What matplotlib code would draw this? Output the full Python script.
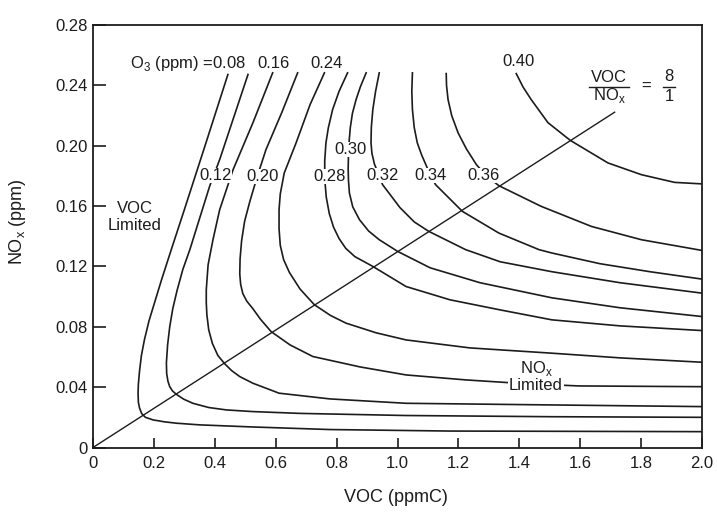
import matplotlib
matplotlib.use("Agg")
import matplotlib.pyplot as plt

plt.rcParams['font.family'] = ['Liberation Sans', 'DejaVu Sans']

ink = '#1c1c1c'

## Isopleths: VOC (ppmC) and NOx (ppm)
o3_08_x = [0.443, 0.371, 0.300, 0.257, 0.225, 0.184, 0.169, 0.159, 0.153, 0.149, 0.148, 0.149, 0.153, 0.160, 0.172, 0.197, 0.235, 0.274, 0.350, 0.525, 0.778, 1.172, 2.0]
o3_08_y = [0.2472, 0.2019, 0.1576, 0.1311, 0.1111, 0.0840, 0.0715, 0.0610, 0.0510, 0.0420, 0.0360, 0.0300, 0.0260, 0.0225, 0.0200, 0.0183, 0.0170, 0.0161, 0.0150, 0.0136, 0.0119, 0.0109, 0.0105]

o3_12_x = [0.509, 0.416, 0.383, 0.318, 0.295, 0.276, 0.262, 0.252, 0.245, 0.241, 0.242, 0.246, 0.252, 0.261, 0.274, 0.298, 0.328, 0.380, 0.438, 0.525, 0.680, 1.028, 1.507, 2.0]
o3_12_y = [0.2472, 0.1908, 0.1731, 0.1311, 0.1180, 0.1040, 0.0920, 0.0800, 0.0680, 0.0560, 0.0490, 0.0440, 0.0403, 0.0375, 0.0352, 0.0320, 0.0293, 0.0265, 0.0249, 0.0238, 0.0226, 0.0212, 0.0204, 0.0200]

o3_16_x = [0.590, 0.525, 0.460, 0.416, 0.394, 0.378, 0.372, 0.372, 0.374, 0.380, 0.392, 0.410, 0.433, 0.455, 0.482, 0.525, 0.611, 0.778, 1.028, 1.507, 2.0]
o3_16_y = [0.2483, 0.2151, 0.1841, 0.1576, 0.1377, 0.1211, 0.1045, 0.0960, 0.0879, 0.0780, 0.0690, 0.0610, 0.0554, 0.0510, 0.0470, 0.0426, 0.0360, 0.0322, 0.0293, 0.0282, 0.0271]

o3_20_x = [0.672, 0.620, 0.568, 0.540, 0.515, 0.498, 0.488, 0.483, 0.482, 0.485, 0.492, 0.505, 0.525, 0.550, 0.585, 0.647, 0.722, 0.877, 1.028, 1.224, 1.402, 1.595, 2.0]
o3_20_y = [0.2483, 0.2220, 0.1974, 0.1800, 0.1630, 0.1500, 0.1370, 0.1250, 0.1150, 0.1080, 0.1020, 0.0970, 0.0920, 0.0850, 0.0768, 0.0680, 0.0603, 0.0534, 0.0481, 0.0448, 0.0425, 0.0408, 0.0403]

o3_24_x = [0.760, 0.713, 0.667, 0.628, 0.615, 0.611, 0.611, 0.615, 0.626, 0.645, 0.680, 0.727, 0.780, 0.831, 0.930, 1.028, 1.238, 1.507, 1.731, 2.0]
o3_24_y = [0.2483, 0.2273, 0.2019, 0.1819, 0.1680, 0.1576, 0.1450, 0.1340, 0.1245, 0.1160, 0.1050, 0.0946, 0.0875, 0.0824, 0.0760, 0.0713, 0.0660, 0.0625, 0.0594, 0.0565]

o3_28_x = [0.836, 0.808, 0.787, 0.773, 0.765, 0.761, 0.761, 0.766, 0.776, 0.790, 0.808, 0.830, 0.860, 0.919, 1.028, 1.172, 1.337, 1.507, 1.731, 2.0]
o3_28_y = [0.2483, 0.2360, 0.2240, 0.2120, 0.2019, 0.1900, 0.1780, 0.1660, 0.1550, 0.1460, 0.1385, 0.1320, 0.1265, 0.1200, 0.1067, 0.0979, 0.0912, 0.0846, 0.0806, 0.0775]

o3_30_x = [0.897, 0.878, 0.864, 0.852, 0.845, 0.841, 0.839, 0.838, 0.839, 0.842, 0.853, 0.875, 0.905, 0.940, 1.001, 1.107, 1.271, 1.507, 1.731, 2.0]
o3_30_y = [0.2483, 0.2390, 0.2306, 0.2215, 0.2120, 0.2025, 0.1935, 0.1850, 0.1770, 0.1687, 0.1595, 0.1510, 0.1435, 0.1377, 0.1299, 0.1191, 0.1092, 0.0992, 0.0926, 0.0868]

o3_32_x = [0.940, 0.928, 0.919, 0.914, 0.913, 0.916, 0.924, 0.951, 1.008, 1.055, 1.103, 1.224, 1.337, 1.507, 1.731, 2.0]
o3_32_y = [0.2483, 0.2360, 0.2240, 0.2120, 0.2019, 0.1950, 0.1880, 0.1742, 0.1590, 0.1495, 0.1432, 0.1311, 0.1231, 0.1165, 0.1092, 0.1023]

o3_34_x = [1.049, 1.047, 1.049, 1.055, 1.065, 1.079, 1.093, 1.107, 1.125, 1.213, 1.333, 1.465, 1.507, 1.665, 1.829, 2.0]
o3_34_y = [0.2483, 0.2360, 0.2240, 0.2120, 0.2019, 0.1940, 0.1875, 0.1808, 0.1742, 0.1565, 0.1421, 0.1311, 0.1289, 0.1218, 0.1165, 0.1116]

o3_36_x = [1.160, 1.161, 1.166, 1.178, 1.199, 1.226, 1.259, 1.291, 1.333, 1.472, 1.637, 1.801, 2.0]
o3_36_y = [0.2478, 0.2400, 0.2306, 0.2200, 0.2085, 0.1980, 0.1875, 0.1802, 0.1735, 0.1598, 0.1465, 0.1377, 0.1306]

o3_40_x = [1.390, 1.412, 1.439, 1.494, 1.567, 1.691, 1.801, 1.910, 2.0]
o3_40_y = [0.2478, 0.2390, 0.2306, 0.2153, 0.2036, 0.1886, 0.1808, 0.1757, 0.1747]

## VOC/NOx = 8/1 line
ratio_x = [0, 1.713]
ratio_y = [0, 0.2222]

x_ticks = [0, 0.2, 0.4, 0.6, 0.8, 1.0, 1.2, 1.4, 1.6, 1.8, 2.0]
x_tick_labels = ['0', '0.2', '0.4', '0.6', '0.8', '1.0', '1.2', '1.4', '1.6', '1.8', '2.0']
y_ticks = [0, 0.04, 0.08, 0.12, 0.16, 0.20, 0.24, 0.28]
y_tick_labels = ['0', '0.04', '0.08', '0.12', '0.16', '0.20', '0.24', '0.28']

## inline labels sitting on the curves: text, x, y
inline_labels = [('0.12', 0.401, 0.1802), ('0.20', 0.557, 0.1795), ('0.28', 0.778, 0.1795),
                 ('0.30', 0.847, 0.1974), ('0.32', 0.952, 0.1802), ('0.34', 1.107, 0.1802),
                 ('0.36', 1.284, 0.1802)]
top_labels = [('0.16', 0.594, 0.2545), ('0.24', 0.768, 0.2545), ('0.40', 1.396, 0.2558)]

curves = [(o3_08_x, o3_08_y), (o3_12_x, o3_12_y), (o3_16_x, o3_16_y), (o3_20_x, o3_20_y),
          (o3_24_x, o3_24_y), (o3_28_x, o3_28_y), (o3_30_x, o3_30_y), (o3_32_x, o3_32_y),
          (o3_34_x, o3_34_y), (o3_36_x, o3_36_y), (o3_40_x, o3_40_y)]

nox = r'NO$_{\mathregular{x}}$'

fig = plt.figure(figsize=(7.17, 5.18), dpi=100)
ax = fig.add_axes([93/717, 70.5/518, 609/717, 422.5/518])

for cx, cy in curves:
	ax.plot(cx, cy, color=ink, lw=1.2, solid_joinstyle='round', zorder=2)

ax.plot(ratio_x, ratio_y, color=ink, lw=1.0, zorder=2)

ax.set_xlim(0, 2.0)
ax.set_ylim(0, 0.28)
ax.set_xticks(x_ticks)
ax.set_xticklabels(x_tick_labels)
ax.set_yticks(y_ticks)
ax.set_yticklabels(y_tick_labels)
ax.tick_params(axis='x', direction='in', length=7, width=1.2, pad=6, labelsize=12, colors=ink)
ax.tick_params(axis='y', direction='in', length=9, width=1.2, pad=4, labelsize=12, colors=ink)
for sp in ax.spines.values():
	sp.set_linewidth(1.3)
	sp.set_color(ink)

fs = 12
box = dict(facecolor='white', edgecolor='none', pad=0.2)
for txt, lx, ly in inline_labels:
	ax.text(lx, ly, txt, ha='center', va='center', fontsize=fs, color=ink, bbox=box, zorder=3)
for txt, lx, ly in top_labels:
	ax.text(lx, ly, txt, ha='center', va='center', fontsize=fs, color=ink, zorder=3)
ax.text(0.502, 0.2545, 'O$_{\mathregular{3}}$ (ppm) =0.08', ha='right', va='center', fontsize=fs, color=ink, zorder=3)

ax.text(0.138, 0.1529, 'VOC\nLimited', ha='center', va='center', fontsize=fs, color=ink,
	linespacing=1.2, bbox=dict(facecolor='white', edgecolor='none', pad=0.6), zorder=3)
ax.text(1.455, 0.0475, nox + '\nLimited', ha='center', va='center', fontsize=fs, color=ink,
	linespacing=0.95, bbox=dict(facecolor='white', edgecolor='none', pad=0.6), zorder=3)

## VOC/NOx = 8/1 fraction
ax.text(1.695, 0.2455, 'VOC', ha='center', va='center', fontsize=fs, color=ink)
ax.text(1.695, 0.2330, nox, ha='center', va='center', fontsize=fs, color=ink)
ax.plot([1.630, 1.760], [0.2392, 0.2392], color=ink, lw=1.0)
ax.text(1.818, 0.2392, '=', ha='center', va='center', fontsize=fs, color=ink)
ax.text(1.892, 0.2458, '8', ha='center', va='center', fontsize=fs, color=ink)
ax.text(1.892, 0.2328, '1', ha='center', va='center', fontsize=fs, color=ink)
ax.plot([1.873, 1.911], [0.2392, 0.2392], color=ink, lw=1.0)

fig.text(396/717, 1 - 498/518, 'VOC (ppmC)', ha='center', va='center', fontsize=13, color=ink)
fig.text(17/717, 1 - 222/518, nox + ' (ppm)', ha='center', va='center', rotation=90, fontsize=13, color=ink)

fig.savefig('out.png', dpi=100)
